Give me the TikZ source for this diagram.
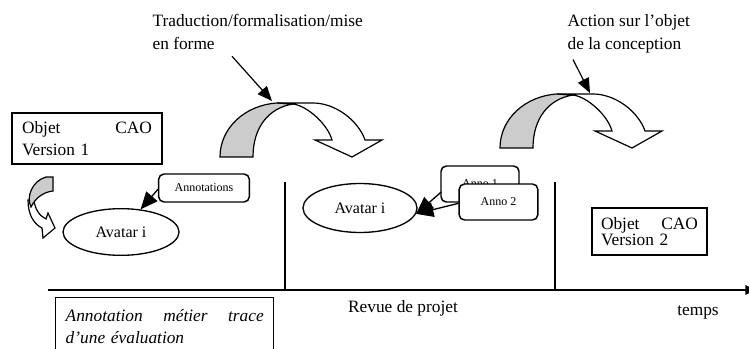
\documentclass[tikz,border=0pt]{standalone}
\usepackage{fontspec}
\setmainfont{Liberation Serif}
\usetikzlibrary{arrows.meta,shapes.geometric,positioning}

\begin{document}
\begin{tikzpicture}[x=0.75pt,y=-0.75pt,line width=0.9pt]
\tikzstyle{every node}+=[inner sep=0pt]
\tikzstyle{cao}=[draw,line width=1.1pt,align=left]
\tikzstyle{avatar}=[draw,ellipse,line width=1pt,font=\fontsize{12}{14}\selectfont]
\tikzstyle{anno}=[draw,rounded corners=4pt,fill=white,line width=1.1pt,font=\fontsize{9}{11}\selectfont]
\tikzstyle{fleche}=[-{Triangle[length=13pt,width=11pt]},line width=1pt]
\tikzstyle{legende}=[anchor=north west,align=left,font=\fontsize{13}{17}\selectfont]
\useasboundingbox (0,0) rectangle (749,349);
\node[legende] (trad) at (152,14) {Traduction/formalisation/mise\\en forme};
\node[legende] (action) at (567,14) {Action sur l’objet\\de la conception};
\foreach \dx/\dy in {0/0,280/-9} {
\begin{scope}[shift={(\dx,\dy)}]
\draw[fill=black!20] (220,157) -- (253,157) .. controls (253,128) and (268,108) .. (293,104) -- (277,103) .. controls (245,105) and (220,128) .. (220,157) -- cycle;
\draw[fill=white] (277,103) -- (313,103) .. controls (335,103) and (358,120) .. (365,140) -- (382,140) -- (352,157) -- (315,140) -- (332,140) .. controls (328,125) and (308,106) .. (293,104) -- cycle;
\end{scope}
}
\coordinate (haut1) at (272,101);
\coordinate (haut2) at (590,93);
\draw[-{Triangle[length=11pt,width=9pt]}] ([shift={(80,6)}]trad.south west) -- (haut1);
\draw[-{Triangle[length=11pt,width=9pt]}] ([shift={(6,6)}]action.south west) -- (haut2);
\node[cao,text width=97.5pt,minimum width=112.5pt,minimum height=38.25pt,font=\fontsize{13}{17}\selectfont] (cao1) at (87,138.5) {Objet\hfill CAO\\Version 1};
\node[cao,text width=72.75pt,minimum width=86.25pt,minimum height=35pt,font=\fontsize{13}{11}\selectfont] (cao2) at (649.5,231.5) {Objet\hfill CAO\\Version 2};
\draw[fill=white] (28,200) .. controls (28,215) and (34,224) .. (42,228) -- (43,238) -- (55,228) -- (48,213) -- (46,219) .. controls (40,216) and (35,210) .. (34,200) -- cycle;
\draw[fill=black!20] (46,177) -- (53,177) -- (53,191) .. controls (44,192) and (36,197) .. (31,207) .. controls (26,197) and (32,181) .. (46,177) -- cycle;
\node[avatar,minimum width=87pt,minimum height=35pt] (av1) at (121,232) {Avatar i};
\node[avatar,minimum width=85.5pt,minimum height=36.75pt] (av2) at (360,208) {Avatar i};
\node[anno,minimum width=68pt,minimum height=21pt] (annot) at (204,188) {Annotations};
\node[anno,minimum width=58.5pt,minimum height=27pt] (anno1) at (480,184) {Anno 1};
\node[anno,minimum width=59pt,minimum height=27pt] (anno2) at (498.5,202) {Anno 2};
\draw[fleche] ([yshift=-1pt]annot.west) -- (av1);
\draw[fleche] ([shift={(1,8)}]anno1.west) -- (av2.-6);
\draw[fleche] ([yshift=-1pt]anno2.west) -- (av2.-6);
\coordinate (t0) at (48,290);
\coordinate (t1) at (756,290);
\coordinate (r1) at (285,182);
\coordinate (r1b) at (285,290);
\coordinate (r2) at (555,182);
\coordinate (r2b) at (555,290);
\draw (r1) -- (r1b);
\draw (r2) -- (r2b);
\draw[line width=1.5pt,-{Triangle[length=8pt,width=7pt]}] (t0) -- (t1);
\node[font=\fontsize{13}{17}\selectfont] (revue) at (403,308) {Revue de projet};
\node[font=\fontsize{13}{17}\selectfont] (temps) at (698,312) {temps};
\node[draw,line width=1.1pt,anchor=north west,text width=148.5pt,minimum height=44pt,inner xsep=7.5pt,inner ysep=6pt,align=left,font=\fontsize{13}{16.5}\selectfont\itshape] (metier) at (55,297) {Annotation\hfill métier\hfill trace\\d’une évaluation};
\end{tikzpicture}
\end{document}
